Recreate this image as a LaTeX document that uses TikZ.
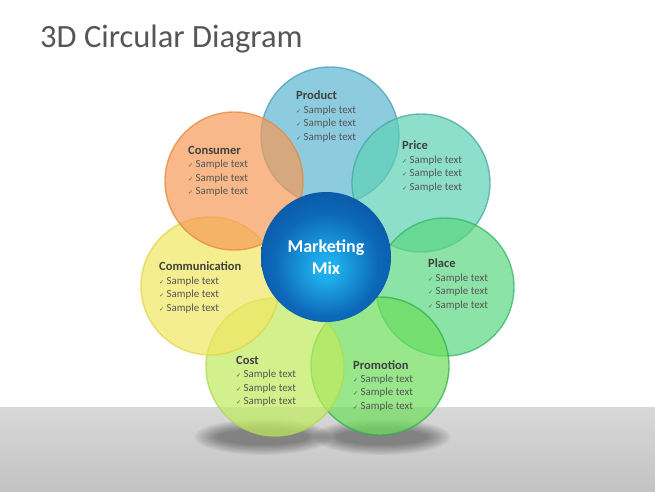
\documentclass[tikz,border=0pt]{standalone}
\usepackage{fontspec}
\setmainfont{Carlito}
\newfontfamily\checkfont{DejaVu Sans}

\definecolor{titlegray}{HTML}{565656}
\definecolor{headgray}{HTML}{404040}
\definecolor{textgray}{HTML}{555555}
\definecolor{floortop}{HTML}{D8D8D8}
\definecolor{floorbottom}{HTML}{C3C3C3}
\definecolor{productfill}{HTML}{5DB5D0}
\definecolor{productline}{HTML}{4A9FBC}
\definecolor{pricefill}{HTML}{5ED1B5}
\definecolor{priceline}{HTML}{45A9A0}
\definecolor{placefill}{HTML}{5CD883}
\definecolor{placeline}{HTML}{33B865}
\definecolor{promotionfill}{HTML}{6DDE5B}
\definecolor{promotionline}{HTML}{30B050}
\definecolor{costfill}{HTML}{BFEC5E}
\definecolor{costline}{HTML}{B0D855}
\definecolor{communicationfill}{HTML}{F2E761}
\definecolor{communicationline}{HTML}{E2D448}
\definecolor{consumerfill}{HTML}{F69A58}
\definecolor{consumerline}{HTML}{E5893A}
\definecolor{mixlight}{HTML}{1FAEEC}
\definecolor{mixmid}{HTML}{0D68BA}
\definecolor{mixdeep}{HTML}{0A4A94}
\definecolor{mixdark}{HTML}{08316C}

\pgfdeclareradialshading{mixball}{\pgfpoint{0bp}{-5bp}}{color(0bp)=(mixlight); color(4bp)=(mixlight); color(20bp)=(mixmid); color(36bp)=(mixdeep); color(47bp)=(mixdark); color(50bp)=(mixdark)}

\newcommand{\petalsize}{138pt}
\newcommand{\mixsize}{130pt}
\newcommand{\tick}{{\checkfont\fontsize{6}{6}\selectfont ✓}\hspace{2.5pt}}
\newcommand{\petalhead}[1]{{\fontsize{12.5}{14}\selectfont\bfseries\color{headgray}#1}}
\newcommand{\samplelines}{\tick Sample text\\ \tick Sample text\\ \tick Sample text}

\begin{document}
\begin{tikzpicture}[
    x=1pt, y=-1pt,
    petal/.style={circle, minimum size=\petalsize, inner sep=0pt, line width=1.4pt,
        fill opacity=0.7, draw opacity=0.75},
    petal text/.style={anchor=north west, inner sep=0pt, align=left, text=textgray,
        font=\fontsize{10.9}{13.4}\selectfont},
    mix font/.style={font=\fontsize{18}{22}\selectfont\bfseries}
]

\useasboundingbox (0,0) rectangle (655,491);

% BACKGROUND
\fill[white] (0,0) rectangle (655,407);
\shade[top color=floortop, bottom color=floorbottom] (0,407) rectangle (655,491);

% SHADOWS
\foreach \s in {0,...,9} {
    \fill[black, opacity=0.045] (263,437) ellipse ({46pt+2.5pt*\s} and {8pt+1.1pt*\s});
    \fill[black, opacity=0.045] (382,437) ellipse ({46pt+2.5pt*\s} and {8pt+1.1pt*\s});
}

% PETALS
\node[petal, fill=productfill, draw=productline] (product) at (330,136) {};
\node[petal, fill=pricefill, draw=priceline] (price) at (421,183) {};
\node[petal, fill=placefill, draw=placeline] (place) at (445,287) {};
\node[petal, fill=promotionfill, draw=promotionline] (promotion) at (380,366) {};
\node[petal, fill=costfill, draw=costline] (cost) at (275,367) {};
\node[petal, fill=communicationfill, draw=communicationline] (communication) at (210,286) {};
\node[petal, fill=consumerfill, draw=consumerline] (consumer) at (234,181) {};

% CENTER
\node[circle, minimum size=\mixsize, inner sep=0pt, shading=mixball, text=white,
    align=center, mix font] (mix) at (326,257) {Marketing\\Mix};

% LABELS
\node[petal text] (product text) at (296,91) {\petalhead{Product}\\ \samplelines};
\node[petal text] (price text) at (402,141) {\petalhead{Price}\\ \samplelines};
\node[petal text] (place text) at (428,259) {\petalhead{Place}\\ \samplelines};
\node[petal text] (promotion text) at (353,360) {\petalhead{Promotion}\\ \samplelines};
\node[petal text] (cost text) at (236,356) {\petalhead{Cost}\\ \samplelines};
\node[petal text] (communication text) at (159,262) {\petalhead{Communication}\\ \samplelines};
\node[petal text] (consumer text) at (188,146) {\petalhead{Consumer}\\ \samplelines};

% TITLE
\node[anchor=base west, inner sep=0pt, text=titlegray, font=\fontsize{32.5}{38}\selectfont]
    (title) at (40,47) {3D Circular Diagram};

\end{tikzpicture}
\end{document}
